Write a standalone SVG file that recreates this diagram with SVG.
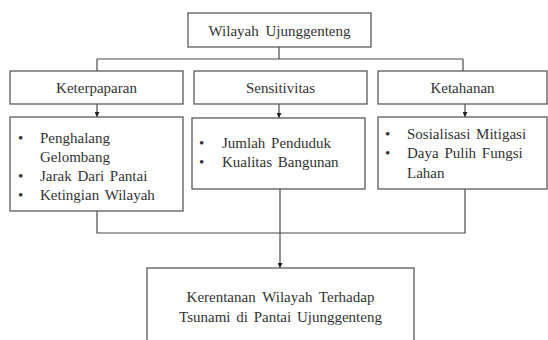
<svg xmlns="http://www.w3.org/2000/svg" width="548" height="340" viewBox="0 0 548 340">
<defs>
<marker id="ah" viewBox="0 0 10 10" refX="10" refY="5" markerWidth="5" markerHeight="5" orient="auto" markerUnits="userSpaceOnUse">
<path d="M0,0 L10,5 L0,10 z" fill="#222"/>
</marker>
</defs>
<rect width="548" height="340" fill="#fff"/>
<g id="connectors" fill="none" stroke="#4a4a4a" stroke-width="1.2">
<path d="M279,47 V59 M97,59 H463 M97,59 V71 M463,59 V71"/>
<path d="M97,104 V117" marker-end="url(#ah)"/>
<path d="M279,104 V118" marker-end="url(#ah)"/>
<path d="M465,104 V117" marker-end="url(#ah)"/>
<path d="M97,211 V233 H465 V189"/>
<path d="M280,189 V268" marker-end="url(#ah)"/>
</g>
<g id="boxes" fill="#fff" stroke="#5a5a5a" stroke-width="1.3">
<g id="wilayah"><rect x="188" y="13" width="183" height="34"/></g>
<g id="keterpaparan"><rect x="10" y="71" width="173" height="33"/></g>
<g id="sensitivitas"><rect x="194" y="71" width="173" height="33"/></g>
<g id="ketahanan"><rect x="378" y="71" width="169" height="33"/></g>
<g id="list-keterpaparan"><rect x="10" y="117" width="173" height="94"/></g>
<g id="list-sensitivitas"><rect x="192" y="118" width="173" height="71"/></g>
<g id="list-ketahanan"><rect x="378" y="117" width="169" height="72"/></g>
<g id="kerentanan"><rect x="147" y="268" width="267" height="80"/></g>
</g>
<g id="labels" fill="#333">
<text font-family="Liberation Serif" font-size="15" text-anchor="middle" x="279.5" y="36" word-spacing="3">Wilayah Ujunggenteng</text>
<text font-family="Liberation Serif" font-size="15" text-anchor="middle" x="96.5" y="93">Keterpaparan</text>
<text font-family="Liberation Serif" font-size="15" text-anchor="middle" x="280.5" y="93">Sensitivitas</text>
<text font-family="Liberation Serif" font-size="15" text-anchor="middle" x="462.5" y="93">Ketahanan</text>
<text font-family="Liberation Serif" font-size="15" x="18" y="143">•</text>
<text font-family="Liberation Serif" font-size="15" x="40" y="143">Penghalang</text>
<text font-family="Liberation Serif" font-size="15" x="40" y="162">Gelombang</text>
<text font-family="Liberation Serif" font-size="15" x="18" y="181">•</text>
<text font-family="Liberation Serif" font-size="15" x="40" y="181" word-spacing="2">Jarak Dari Pantai</text>
<text font-family="Liberation Serif" font-size="15" x="18" y="200">•</text>
<text font-family="Liberation Serif" font-size="15" x="40" y="200" word-spacing="2">Ketingian Wilayah</text>
<text font-family="Liberation Serif" font-size="15" x="199" y="148">•</text>
<text font-family="Liberation Serif" font-size="15" x="222" y="148" word-spacing="2">Jumlah Penduduk</text>
<text font-family="Liberation Serif" font-size="15" x="199" y="167">•</text>
<text font-family="Liberation Serif" font-size="15" x="222" y="167" word-spacing="2">Kualitas Bangunan</text>
<text font-family="Liberation Serif" font-size="15" x="385" y="139">•</text>
<text font-family="Liberation Serif" font-size="15" x="407" y="139" word-spacing="2">Sosialisasi Mitigasi</text>
<text font-family="Liberation Serif" font-size="15" x="385" y="158">•</text>
<text font-family="Liberation Serif" font-size="15" x="407" y="158" word-spacing="2">Daya Pulih Fungsi</text>
<text font-family="Liberation Serif" font-size="15" x="407" y="178">Lahan</text>
<text font-family="Liberation Serif" font-size="15" text-anchor="middle" x="280.5" y="302" word-spacing="3">Kerentanan Wilayah Terhadap</text>
<text font-family="Liberation Serif" font-size="15" text-anchor="middle" x="280.5" y="322" word-spacing="2">Tsunami di Pantai Ujunggenteng</text>
</g>
</svg>
